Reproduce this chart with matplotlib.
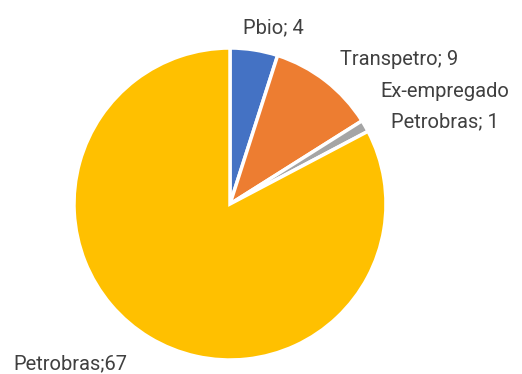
import matplotlib
matplotlib.use("Agg")
import matplotlib.pyplot as plt

# share of cases by company
categories = ["Pbio", "Transpetro", "Ex-empregado\nPetrobras", "Petrobras"]
values     = [4, 9, 1, 67]
colors     = ["#4472C4", "#ED7D31", "#A5A5A5", "#FFC000"]
label_text = ["Pbio; 4", "Transpetro; 9", "Ex-empregado\nPetrobras; 1", "Petrobras;67"]

W, H = 522, 374
fig = plt.figure(figsize=(W / 100, H / 100), dpi=100)

cx, cy, r = 230, 204, 156
ax = fig.add_axes([(cx - r) / W, (H - cy - r) / H, 2 * r / W, 2 * r / H])
ax.pie(values, colors=colors, startangle=90, counterclock=False,
       wedgeprops=dict(edgecolor="white", linewidth=2.5))
ax.set_xlim(-1, 1)
ax.set_ylim(-1, 1)
ax.set_aspect("equal")
ax.axis("off")

# label anchors in pixels (x, baseline y from top), alignment
label_pos = [(243, 33, "left"), (340, 65, "left"), (445, 97, "center"), (13, 369, "left")]
for txt, (x, y, ha) in zip(label_text, label_pos):
    lines = txt.split("\n")
    for k, line in enumerate(lines):
        yy = y + k * 30
        fig.text(x / W, 1 - yy / H, line, ha=ha, va="baseline",
                 fontsize=14.5, color="#404040", family="Roboto")

fig.savefig("out.png", dpi=100)
